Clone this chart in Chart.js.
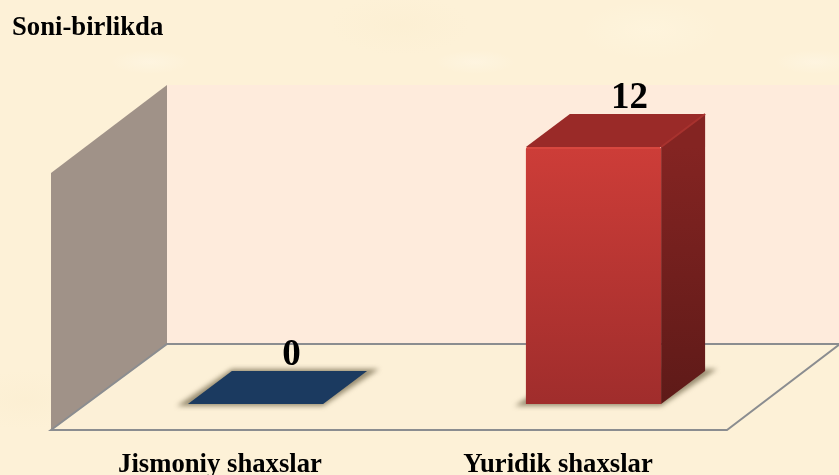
<!DOCTYPE html>
<html>
<head>
<meta charset="utf-8">
<title>Soni-birlikda</title>
<script src="https://cdn.jsdelivr.net/npm/chart.js@4"></script>
<style>
html, body { margin: 0; padding: 0; }
body {
    width: 839px;
    height: 475px;
    overflow: hidden;
    background-color: #fdf1d7;
    background-image:
        radial-gradient(ellipse 40px 12px at 150px 62px, rgba(255,250,240,.35), transparent),
        radial-gradient(ellipse 40px 12px at 475px 62px, rgba(255,250,240,.35), transparent),
        radial-gradient(ellipse 40px 12px at 815px 62px, rgba(255,250,240,.35), transparent),
        radial-gradient(ellipse 60px 30px at 25px 400px, rgba(250,236,205,.4), transparent),
        radial-gradient(ellipse 70px 30px at 400px 25px, rgba(250,236,205,.35), transparent),
        radial-gradient(ellipse 70px 30px at 650px 30px, rgba(255,248,228,.4), transparent);
}
#wrap { position: relative; width: 839px; height: 475px; }
</style>
</head>
<body>
<div id="wrap"><canvas id="chart" width="839" height="475"></canvas></div>
<script>
// Dữ liệu
const categories = ['Jismoniy shaxslar', 'Yuridik shaxslar'];
const values = [0, 12];
const titleText = 'Soni-birlikda';

const frontColors = [['#1b3a60', '#1b3a60'], ['#cd3d38', '#a02d2c']];
const sideColors = [['#15304f', '#15304f'], ['#842422', '#5e1a18']];
const topColors = ['#1b3a60', '#9a2a28'];

// Độ sâu của sàn và của cột (px)
const floorDepth = { x: 116, y: -86 };
const wallRise = -88;
const barShift = { x: 35.5, y: -26 };
const barDepth = { x: 44, y: -33 };
const serif = '"Liberation Serif", "Times New Roman", serif';

function poly(ctx, pts, fill, stroke) {
    ctx.beginPath();
    pts.forEach((p, i) => i ? ctx.lineTo(p[0], p[1]) : ctx.moveTo(p[0], p[1]));
    ctx.closePath();
    if (fill) { ctx.fillStyle = fill; ctx.fill(); }
    if (stroke) { ctx.strokeStyle = stroke; ctx.lineWidth = 2; ctx.stroke(); }
}

function vGrad(ctx, y0, y1, c) {
    const g = ctx.createLinearGradient(0, y0, 0, y1);
    g.addColorStop(0, c[0]);
    g.addColorStop(1, c[1]);
    return g;
}

// Vẽ tường và sàn
const wallsPlugin = {
    id: 'walls',
    beforeDatasetsDraw(chart) {
        const ctx = chart.ctx, a = chart.chartArea, w = chart.width;
        const bx = a.left + floorDepth.x, by = a.bottom + floorDepth.y;
        const ty = a.top + wallRise;
        ctx.save();
        poly(ctx, [[bx, ty], [w, ty], [w, by], [bx, by]], '#feebdc');
        poly(ctx, [[a.left, a.top], [bx, ty], [bx, by], [a.left, a.bottom]], '#a09288');
        poly(ctx, [[a.left, a.bottom], [bx, by], [w + 1, by], [a.right, a.bottom]], '#fcf0d7', '#8b8d90');
        ctx.restore();
    }
};

// Vẽ bóng, mặt bên và mặt trên của cột, rồi dịch mặt trước
const bar3dPlugin = {
    id: 'bar3d',
    beforeDatasetDraw(chart, args) {
        const ctx = chart.ctx;
        const meta = chart.getDatasetMeta(args.index);
        ctx.save();
        ctx.translate(barShift.x, barShift.y);
        meta.data.forEach((bar, i) => {
            const l = bar.x - bar.width / 2, r = bar.x + bar.width / 2;
            const t = bar.y, b = bar.base;
            const dx = barDepth.x, dy = barDepth.y;
            ctx.save();
            ctx.filter = 'blur(2.5px)';
            poly(ctx, [[l - 11, b + 2], [r, b + 2], [r + dx + 12, b + dy - 2], [l + dx, b + dy - 2]], 'rgba(110,98,70,.7)');
            ctx.restore();
            if (b - t > 0) {
                poly(ctx, [[r, t], [r + dx, t + dy], [r + dx, b + dy], [r, b]], vGrad(ctx, t, b, sideColors[i]));
            }
            poly(ctx, [[l, t], [l + dx, t + dy], [r + dx, t + dy], [r, t]], topColors[i]);
            if (b - t > 0) {
                ctx.beginPath();
                ctx.moveTo(r, t);
                ctx.lineTo(r + dx, t + dy);
                ctx.strokeStyle = '#a8322e';
                ctx.lineWidth = 2;
                ctx.stroke();
            }
        });
    },
    afterDatasetDraw(chart, args) {
        const ctx = chart.ctx;
        const meta = chart.getDatasetMeta(args.index);
        // Viền sáng trên mặt trước và nhãn giá trị
        meta.data.forEach((bar, i) => {
            if (bar.base - bar.y > 0) {
                ctx.beginPath();
                ctx.moveTo(bar.x - bar.width / 2 + 1, bar.y + 1);
                ctx.lineTo(bar.x + bar.width / 2 - 1, bar.y + 1);
                ctx.strokeStyle = '#d8473f';
                ctx.lineWidth = 2;
                ctx.stroke();
            }
            ctx.font = 'bold 37px ' + serif;
            ctx.textAlign = 'center';
            ctx.textBaseline = 'alphabetic';
            ctx.fillStyle = '#000';
            ctx.fillText(values[i], bar.x + barDepth.x / 2 + 14, bar.y - 39);
        });
        ctx.restore();
    }
};

new Chart(document.getElementById('chart').getContext('2d'), {
    type: 'bar',
    data: {
        labels: categories,
        datasets: [{
            data: values,
            barPercentage: 0.4,
            categoryPercentage: 1,
            borderRadius: 2,
            backgroundColor: (c) => {
                const a = c.chart.chartArea;
                if (!a) return frontColors[c.dataIndex][0];
                return vGrad(c.chart.ctx, a.top, a.bottom, frontColors[c.dataIndex]);
            }
        }]
    },
    options: {
        responsive: false,
        animation: false,
        layout: { padding: { left: 12, right: 112, top: 0, bottom: 0 } },
        scales: {
            x: {
                grid: { display: false },
                border: { display: false },
                afterFit: (s) => { s.height = 45; },
                ticks: {
                    color: '#000',
                    padding: 11,
                    maxRotation: 0,
                    font: { family: serif, size: 26.7, weight: 'bold' }
                }
            },
            y: {
                min: 0,
                max: 12,
                grid: { display: false },
                border: { display: false },
                ticks: { display: false },
                afterFit: (s) => { s.width = 39; }
            }
        },
        plugins: {
            legend: { display: false },
            tooltip: { enabled: false },
            title: {
                display: true,
                text: titleText,
                align: 'start',
                color: '#000',
                font: { family: serif, size: 26.7, weight: 'bold' },
                padding: { top: 12, bottom: 129 }
            }
        }
    },
    plugins: [wallsPlugin, bar3dPlugin]
});
</script>
</body>
</html>
